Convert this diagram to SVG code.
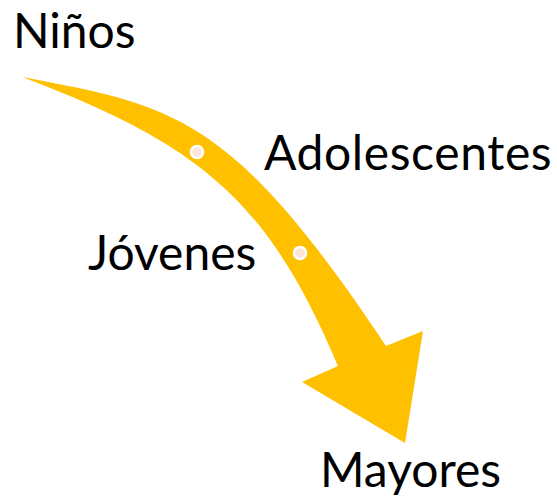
<svg xmlns="http://www.w3.org/2000/svg" width="557" height="496" viewBox="0 0 557 496">
<style>
.lbl{font-family:Lato,"Noto Sans","Liberation Sans",sans-serif;font-size:48px;fill:#000}
.dot{fill:#FBE5D6;stroke:#fff;stroke-width:2.5}
</style>
<rect width="557" height="496" fill="#fff"/>
<g id="connectors">
<path id="arrow" fill="#FFC000" d="M22,77 C176,106 232,115 386,346 L423,331 L405,443 L302,382 L338,366 C268,201 202,145 22,77 Z"/>
</g>
<g id="dot1"><circle class="dot" cx="197" cy="152" r="6"/></g>
<g id="dot2"><circle class="dot" cx="300" cy="253" r="6"/></g>
<g id="ninos"><text class="lbl" x="13" y="47.5">Niños</text></g>
<g id="adolescentes"><text class="lbl" x="264" y="170" letter-spacing="0.6">Adolescentes</text></g>
<g id="jovenes"><text class="lbl" x="88" y="270">Jóvenes</text></g>
<g id="mayores"><text class="lbl" x="320" y="487">Mayores</text></g>
</svg>
